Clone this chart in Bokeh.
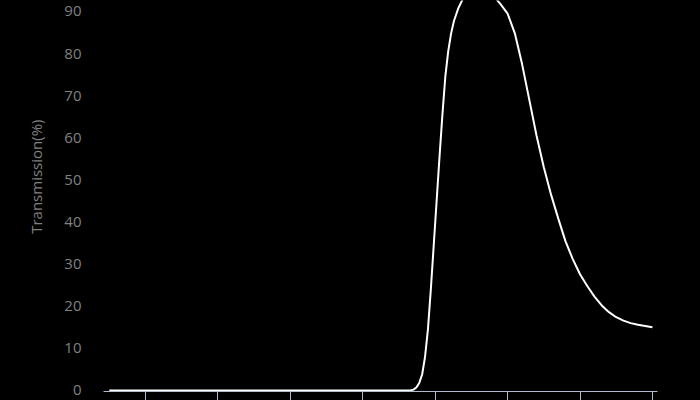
from bokeh.plotting import figure
from bokeh.models import Range1d, FixedTicker, Title
from bokeh.embed import file_html
from bokeh.resources import INLINE

# Wavelength (nm) and transmission (%)
wavelength = [375, 580, 583, 585, 587, 589, 591, 593, 595, 597, 599, 601, 603,
              605, 607, 609, 611, 613, 616, 620, 625, 630, 635, 640, 645, 650,
              655, 660, 665, 670, 675, 680, 685, 690, 695, 700, 705, 710, 715,
              720, 725, 730, 735, 740, 745, 750]
transmission = [0, 0, 0, 0.2, 0.7, 1.8, 3.8, 8, 14.5, 24, 34.5, 45, 55.5,
                65.5, 74.5, 80.5, 84.8, 87.8, 90.8, 93.6, 95.3, 95.8, 95.3, 93.8, 91.8, 89.5,
                84.8, 77.5, 69, 60.5, 53, 46.5, 40.8, 35.4, 31.2, 27.6, 24.8, 22.3, 20.2,
                18.6, 17.4, 16.6, 16.0, 15.6, 15.3, 15.0]
x_ticks = [400, 450, 500, 550, 600, 650, 700, 750]
y_ticks = [0, 10, 20, 30, 40, 50, 60, 70, 80, 90]
y_title = "Transmission(%)"

p = figure(width=700, height=400, output_backend="svg", toolbar_location=None,
           x_range=Range1d(371, 753.5), y_range=Range1d(-0.24, 92.6),
           background_fill_color="black", border_fill_color="black",
           min_border_left=103, min_border_right=43, min_border_top=0,
           min_border_bottom=0)
p.outline_line_color = None
p.grid.visible = False

p.line(wavelength, transmission, line_color="white", line_width=2)

xa = p.xaxis[0]
xa.ticker = FixedTicker(ticks=x_ticks)
xa.axis_line_color = "#b0bccc"
xa.major_tick_line_color = "#b0bccc"
xa.major_tick_out = 9
xa.major_tick_in = 0
xa.minor_tick_line_color = None
xa.major_label_overrides = {t: "" for t in x_ticks}
xa.major_label_standoff = 0

ya = p.yaxis[0]
ya.ticker = FixedTicker(ticks=y_ticks)
ya.axis_line_color = None
ya.major_tick_line_color = None
ya.minor_tick_line_color = None
ya.major_label_text_color = "#808080"
ya.major_label_text_font = "Open Sans"
ya.major_label_text_font_size = "15px"
ya.major_label_standoff = 16

title = Title(text=y_title, align="right", offset=119, standoff=32,
              text_color="#808080", text_font="Open Sans",
              text_font_size="15px", text_font_style="normal")
p.add_layout(title, "left")

html = file_html(p, INLINE)
html = html.replace("</head>", "<style>html,body{background:#000;}</style></head>", 1)
open("out.html", "w").write(html)
